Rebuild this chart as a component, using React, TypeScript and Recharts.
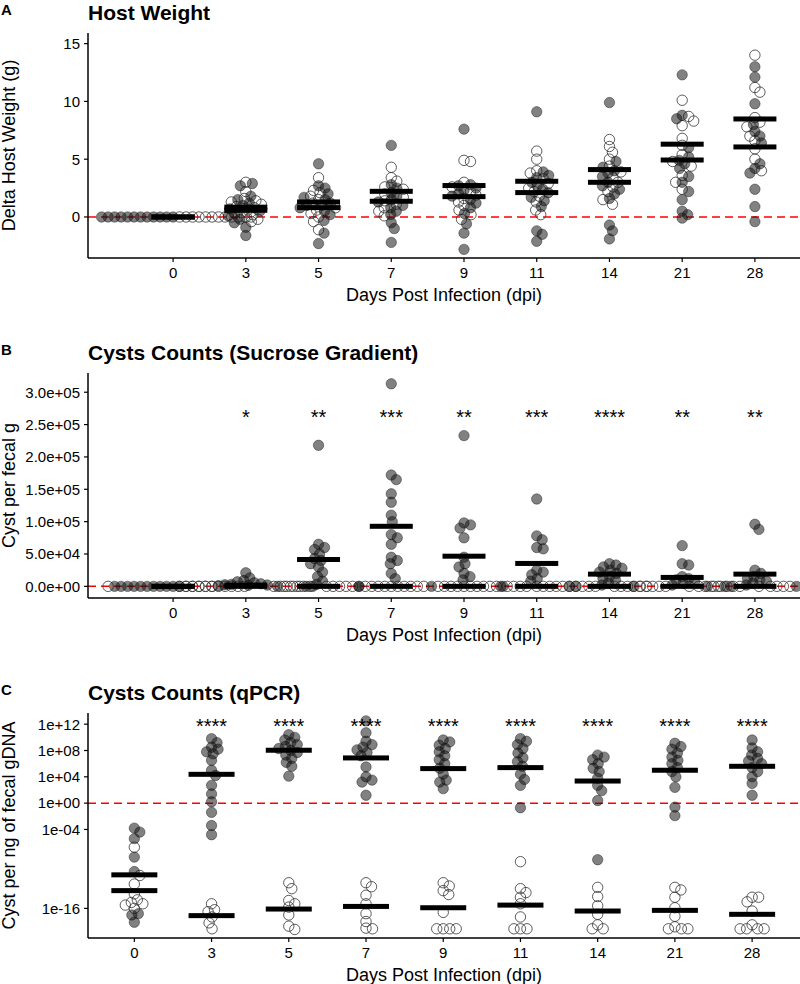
import React from 'react';
import { ScatterChart, Scatter, XAxis, YAxis, ReferenceLine } from 'recharts';

const days = ['0', '3', '5', '7', '9', '11', '14', '21', '28'];

// Panel A: delta host weight (g). filled = infected, open = control
const weightInfected: number[][] = [
  [0, 0, 0, 0, 0, 0, 0, 0, 0, 0, 0, 0],
  [2.9, 2.7, 1.8, 1.5, 1.2, 1.0, 0.7, 0.5, 0.3, 0.1, -0.2, -0.5, -0.9, -1.6],
  [4.6, 2.7, 2.5, 2.0, 1.7, 1.5, 1.2, 1.0, 0.8, 0.5, 0.2, -0.3, -1.4, -2.3],
  [6.2, 2.8, 2.5, 2.1, 1.8, 1.5, 1.3, 1.0, 0.8, 0.5, 0.2, -0.5, -1.0, -2.2],
  [7.6, 2.8, 2.7, 2.5, 2.3, 2.0, 1.8, 1.5, 1.2, 0.8, 0.3, -0.6, -1.4, -2.8],
  [9.1, 3.9, 3.6, 3.4, 3.0, 2.7, 2.4, 2.1, 1.7, 1.4, 0.9, -1.2, -1.5, -2.1],
  [9.9, 4.8, 4.3, 4.0, 3.8, 3.5, 3.0, 2.7, 2.4, 2.0, 1.6, -0.7, -1.2, -1.9],
  [12.3, 8.8, 8.5, 6.0, 5.2, 4.9, 4.6, 4.2, 3.5, 3.0, 2.2, 1.5, 0.5, 0.2, -0.1],
  [13.0, 12.1, 9.8, 8.0, 7.4, 7.0, 6.4, 4.6, 4.2, 3.8, 2.4, 0.9, -0.4],
];
const weightControl: number[][] = [
  [0, 0, 0, 0, 0, 0, 0, 0, 0, 0, 0, 0],
  [3.0, 2.2, 1.6, 1.4, 1.3, 1.1, 0.9, 0.8, 0.6, 0.4, 0.2, 0.0, -0.2, -0.4],
  [3.4, 2.3, 2.1, 1.8, 1.5, 1.2, 1.0, 0.8, 0.6, 0.3, 0.0, -0.4, -1.1],
  [4.3, 3.4, 3.1, 2.6, 2.4, 2.0, 1.7, 1.4, 1.1, 0.8, 0.5, 0.1],
  [4.9, 4.8, 3.0, 2.6, 2.2, 1.9, 1.6, 1.3, 1.0, 0.6, 0.2, -0.2],
  [5.7, 5.0, 4.0, 3.8, 3.3, 2.9, 2.5, 2.2, 1.8, 1.3, 0.6, 0.2],
  [6.7, 6.1, 5.6, 5.0, 4.4, 3.9, 3.4, 3.0, 2.6, 2.2, 1.5, 1.1],
  [10.1, 8.7, 8.3, 7.9, 6.8, 6.2, 5.4, 4.8, 4.4, 3.6, 3.0, 2.4],
  [14.0, 11.2, 10.8, 8.6, 8.2, 7.8, 7.0, 6.6, 5.9, 5.0, 4.0],
];
const weightMeanHigh = [0, 0.85, 1.3, 2.22, 2.72, 3.09, 4.1, 6.3, 8.48];
const weightMeanLow = [0, 0.58, 0.81, 1.36, 1.76, 2.11, 3.0, 4.93, 6.06];

// Panel B: cysts per fecal g (sucrose gradient)
const sucroseInfected: number[][] = [
  [0, 0, 0, 0, 0, 0, 0, 0, 0, 0],
  [21000, 13000, 9000, 7000, 5500, 4000, 3000, 2500, 2000, 1500, 1000, 0, 0, 0],
  [218000, 65000, 60000, 57000, 50000, 43000, 40000, 35000, 30000, 22000, 15000, 8000, 3000, 0, 0],
  [313000, 172000, 165000, 143000, 130000, 110000, 100000, 80000, 75000, 65000, 45000, 40000, 35000, 20000, 12000, 0],
  [233000, 98000, 95000, 90000, 75000, 45000, 35000, 30000, 20000, 15000, 10000, 0, 0],
  [135000, 78000, 72000, 60000, 58000, 25000, 22000, 18000, 12000, 8000, 0, 0],
  [35000, 33000, 30000, 28000, 25000, 22000, 20000, 15000, 12000, 10000, 5000, 2000, 0],
  [63000, 35000, 33000, 15000, 12000, 10000, 8000, 5000, 2000, 0, 0, 0],
  [96000, 88000, 25000, 20000, 15000, 12000, 10000, 8000, 5000, 2000, 0, 0],
];
const sucroseControl: number[][] = [
  [0, 0, 0, 0, 0, 0, 0, 0, 0, 0, 0, 0],
  [0, 0, 0, 0, 0, 0, 0, 0, 0, 0],
  [0, 0, 0, 0, 0, 0, 0, 0, 0, 0],
  [0, 0, 0, 0, 0, 0, 0, 0, 0, 0],
  [0, 0, 0, 0, 0, 0, 0, 0, 0, 0],
  [0, 0, 0, 0, 0, 0, 0, 0, 0, 0],
  [0, 0, 0, 0, 0, 0, 0, 0, 0, 0],
  [0, 0, 0, 0, 0, 0, 0, 0, 0, 0],
  [0, 0, 0, 0, 0, 0, 0, 0, 0, 0],
];
const sucroseMeanInfected = [0, 2000, 41500, 92800, 46600, 35400, 18900, 13800, 18900];
const sucroseMeanControl = [0, 0, 0, 0, 0, 0, 0, 0, 0];
const sucroseStars = ['', '*', '**', '***', '**', '***', '****', '**', '**'];

// Panel C: cysts per ng fecal gDNA (qPCR), values are log10
const qpcrInfected: number[][] = [
  [-3.8, -4.4, -5.4, -8.2, -10.4, -16.8, -17.0, -18.1],
  [9.8, 9.2, 8.5, 8.2, 7.8, 7.5, 6.5, 5.0, 4.2, 2.7, 1.4, 0.2, -1.4, -3.4, -4.8],
  [10.4, 10.0, 9.6, 9.2, 8.9, 8.6, 8.3, 8.0, 7.7, 7.3, 6.8, 6.2, 5.6, 4.1],
  [12.5, 10.7, 9.4, 8.9, 8.5, 8.1, 7.7, 7.2, 5.5, 4.0, 3.5, 3.2, 1.2],
  [9.6, 9.3, 8.8, 8.3, 7.8, 7.2, 6.6, 6.0, 5.3, 4.4, 3.5, 3.2, 2.2],
  [9.8, 9.4, 8.9, 8.3, 7.6, 6.9, 6.3, 5.6, 4.4, 3.6, 2.7, -0.7],
  [7.3, 7.0, 6.6, 6.0, 5.3, 4.8, 3.8, 2.7, 1.9, 0.4, -8.6],
  [9.1, 8.6, 8.2, 7.6, 7.0, 6.5, 6.0, 5.4, 4.8, 4.0, 2.4, -0.6, -1.9],
  [9.6, 8.4, 7.8, 7.3, 6.8, 6.4, 6.0, 5.4, 4.8, 4.0, 3.0, 1.2],
];
const qpcrControl: number[][] = [
  [-6.7, -11.0, -12.3, -13.8, -14.7, -15.1, -15.3, -16.0, -15.5],
  [-15.3, -16.2, -16.5, -17.3, -18.2, -19.1],
  [-12.1, -13.0, -14.8, -15.3, -15.8, -17.0, -18.7, -19.2],
  [-12.1, -12.7, -14.0, -15.3, -16.8, -18.0, -19.0, -19.1],
  [-12.1, -12.6, -13.3, -13.9, -16.6, -19.1, -19.1, -19.1, -19.1],
  [-8.9, -13.0, -13.6, -14.3, -15.3, -17.3, -19.1, -19.1, -19.1],
  [-12.8, -14.2, -15.6, -16.9, -18.5, -19.1, -19.1],
  [-12.8, -13.2, -14.3, -15.9, -17.2, -18.8, -19.1, -19.1, -19.1],
  [-14.3, -14.3, -15.0, -16.4, -18.5, -19.1, -19.1, -19.1, -19.1],
];
const qpcrMeanInfected = [-10.9, 4.38, 8.04, 6.87, 5.25, 5.4, 3.36, 5.0, 5.6];
const qpcrMeanControl = [-13.3, -17.1, -16.1, -15.7, -15.9, -15.5, -16.4, -16.3, -16.9];
const qpcrStars = ['', '****', '****', '****', '****', '****', '****', '****', '****'];

const FONT = '"Liberation Sans", Arial, Helvetica, sans-serif';
const W = 800;
const H = 310;
const LEFT = 88;
const TOP = 33;
const XAXIS_H = 52;
const PLOT_W = W - LEFT;
const PLOT_H = H - TOP - XAXIS_H;
const MIN_D = 6.5;
const STEP = 0.5;
const xIdx = days.map((_, i) => i);

type Pt = { x: number; y: number; label?: string };

// simple beeswarm so overlapping values spread sideways
function swarm(infected: number[][], control: number[][], xDomain: number[], yDomain: number[]) {
  const pxX = PLOT_W / (xDomain[1] - xDomain[0]);
  const pxY = PLOT_H / (yDomain[1] - yDomain[0]);
  const filled: Pt[] = [];
  const open: Pt[] = [];
  days.forEach((_, i) => {
    const a = infected[i];
    const b = control[i];
    const items: { v: number; f: boolean }[] = [];
    for (let k = 0; k < Math.max(a.length, b.length); k++) {
      if (k < a.length) items.push({ v: a[k], f: true });
      if (k < b.length) items.push({ v: b[k], f: false });
    }
    items.sort((p, q) => q.v - p.v);
    const placed: { dx: number; py: number }[] = [];
    items.forEach(it => {
      const py = it.v * pxY;
      let dx = 0;
      for (let k = 0; k < 1000; k++) {
        const cands = k === 0 ? [0] : [k * STEP, -k * STEP];
        const ok = cands.find(c => placed.every(p => (p.dx - c) ** 2 + (p.py - py) ** 2 >= MIN_D * MIN_D));
        if (ok !== undefined) { dx = ok; break; }
      }
      placed.push({ dx, py });
      (it.f ? filled : open).push({ x: i + dx / pxX, y: it.v });
    });
  });
  return { filled, open };
}

const FilledDot = (p: any) => (
  <circle cx={p.cx} cy={p.cy} r={5.2} fill="#1a1a1a" fillOpacity={0.55} stroke="#000" strokeOpacity={0.55} strokeWidth={0.7} />
);
const OpenDot = (p: any) => (
  <circle cx={p.cx} cy={p.cy} r={5.2} fill="none" stroke="#333" strokeWidth={0.8} />
);
const barShape = (w: number) => (p: any) => (
  <rect x={p.cx - w / 2} y={p.cy - 2.5} width={w} height={5} fill="#000" />
);
const StarText = (p: any) => (
  <text x={p.cx} y={p.cy + 11} textAnchor="middle" fontSize={20} fontFamily={FONT} fill="#000">{p.payload.label}</text>
);

const pad2 = (e: number) => (e < 0 ? '-' : '+') + String(Math.abs(e)).padStart(2, '0');
const fmtSci1 = (v: number) => {
  if (v === 0) return '0.0e+00';
  const e = Math.floor(Math.log10(Math.abs(v)));
  return (v / 10 ** e).toFixed(1) + 'e' + pad2(e);
};
const fmtPow = (v: number) => '1e' + pad2(v);

interface PanelProps {
  top: number;
  xDomain: number[];
  yDomain: number[];
  yTicks: number[];
  yFmt?: (v: number) => string;
  refY: number;
  infected: number[][];
  control: number[][];
  meanA: number[];
  meanB: number[];
  barW: number;
  stars?: string[];
  starY?: number;
}

const Panel: React.FC<PanelProps> = ({ top, xDomain, yDomain, yTicks, yFmt, refY, infected, control, meanA, meanB, barW, stars, starY }) => {
  const pts = swarm(infected, control, xDomain, yDomain);
  const meansA = xIdx.map(i => ({ x: i, y: meanA[i] }));
  const meansB = xIdx.map(i => ({ x: i, y: meanB[i] }));
  const starData: Pt[] = stars ? xIdx.map(i => ({ x: i, y: starY as number, label: stars[i] })).filter(d => d.label) : [];
  const tickStyle = { fill: '#000', fontSize: 15, fontFamily: FONT };
  const Bar = barShape(barW);
  return (
    <div style={{ position: 'absolute', left: 0, top }}>
      <ScatterChart width={W} height={H} margin={{ top: TOP, right: 0, bottom: 0, left: 0 }}>
        <XAxis type="number" dataKey="x" domain={xDomain} ticks={xIdx} interval={0} allowDataOverflow
          tickFormatter={(v: number) => days[v]} height={XAXIS_H} tickSize={4} tickMargin={5}
          axisLine={{ stroke: '#000', strokeWidth: 1.5 }} tickLine={{ stroke: '#000', strokeWidth: 1.2 }} tick={tickStyle} />
        <YAxis type="number" dataKey="y" domain={yDomain} ticks={yTicks} interval={0} allowDataOverflow
          tickFormatter={yFmt} width={LEFT} tickSize={4} tickMargin={4}
          axisLine={{ stroke: '#000', strokeWidth: 1.5 }} tickLine={{ stroke: '#000', strokeWidth: 1.2 }} tick={tickStyle} />
        <Scatter data={pts.open} shape={OpenDot} isAnimationActive={false} />
        <Scatter data={pts.filled} shape={FilledDot} isAnimationActive={false} />
        <ReferenceLine y={refY} stroke="#ff0000" strokeDasharray="8 5" strokeWidth={1.5} />
        <Scatter data={meansA} shape={Bar} isAnimationActive={false} />
        <Scatter data={meansB} shape={Bar} isAnimationActive={false} />
        {starData.length > 0 && <Scatter data={starData} shape={StarText} isAnimationActive={false} />}
      </ScatterChart>
    </div>
  );
};

const panels = [
  { top: 0, letter: 'A', title: 'Host Weight', ylab: 'Delta Host Weight (g)' },
  { top: 340, letter: 'B', title: 'Cysts Counts (Sucrose Gradient)', ylab: 'Cyst per fecal g' },
  { top: 680, letter: 'C', title: 'Cysts Counts (qPCR)', ylab: 'Cyst per ng of fecal gDNA' },
];

export default function App() {
  return (
    <div style={{ position: 'relative', width: 800, height: 984, background: '#fff', fontFamily: FONT }}>
      <style>{'body{margin:0}'}</style>
      <Panel top={0} xDomain={[-1.17, 8.62]} yDomain={[-3.55, 15.92]} yTicks={[0, 5, 10, 15]}
        refY={0} infected={weightInfected} control={weightControl}
        meanA={weightMeanHigh} meanB={weightMeanLow} barW={43} />
      <Panel top={340} xDomain={[-1.17, 8.62]} yDomain={[-18000, 329700]}
        yTicks={[0, 50000, 100000, 150000, 200000, 250000, 300000]} yFmt={fmtSci1}
        refY={0} infected={sucroseInfected} control={sucroseControl}
        meanA={sucroseMeanInfected} meanB={sucroseMeanControl} barW={43}
        stars={sucroseStars} starY={268000} />
      <Panel top={680} xDomain={[-0.6, 8.62]} yDomain={[-20.5, 13.7]} yTicks={[-16, -4, 0, 4, 8, 12]} yFmt={fmtPow}
        refY={0} infected={qpcrInfected} control={qpcrControl}
        meanA={qpcrMeanInfected} meanB={qpcrMeanControl} barW={46}
        stars={qpcrStars} starY={12.38} />
      <svg width={800} height={984} style={{ position: 'absolute', left: 0, top: 0, pointerEvents: 'none' }}>
        {panels.map(p => (
          <g key={p.letter} fontFamily={FONT} fill="#000">
            <text x={1} y={p.top + 15} fontSize={15} fontWeight="bold">{p.letter}</text>
            <text x={88} y={p.top + 20} fontSize={21} fontWeight="bold">{p.title}</text>
            <text x={444} y={p.top + 300.5} fontSize={18} textAnchor="middle">Days Post Infection (dpi)</text>
            <text x={15} y={p.top + 145.5} fontSize={18} textAnchor="middle"
              transform={`rotate(-90, 15, ${p.top + 145.5})`}>{p.ylab}</text>
          </g>
        ))}
      </svg>
    </div>
  );
}
